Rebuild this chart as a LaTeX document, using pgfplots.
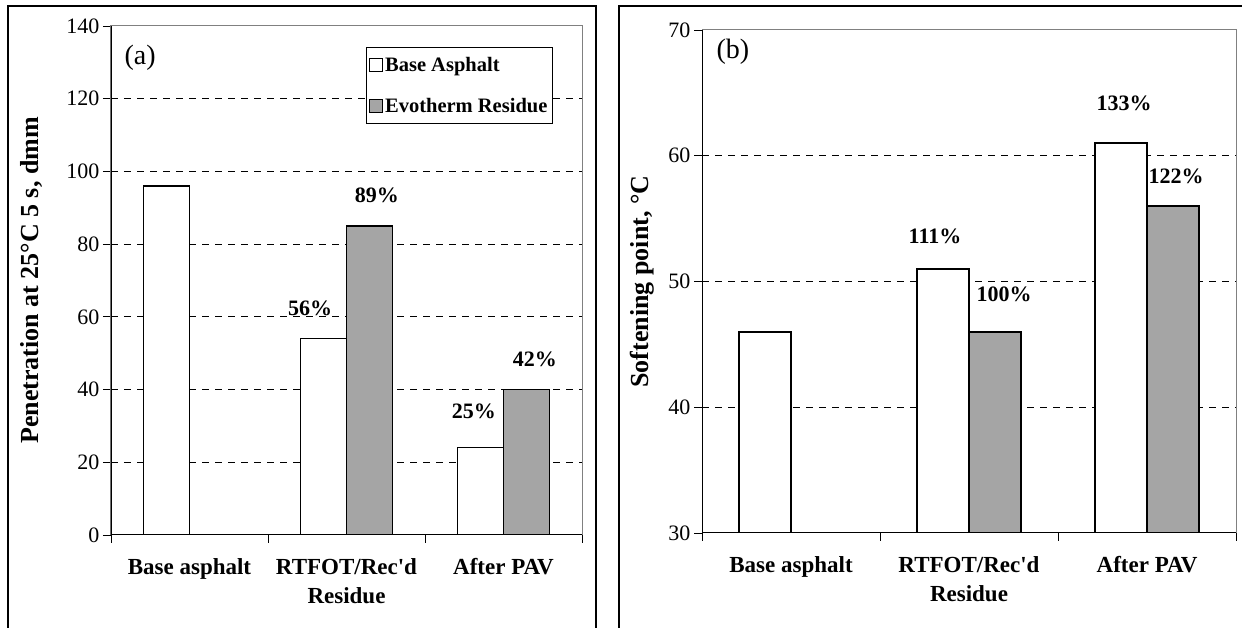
\documentclass[border=0pt]{standalone}
\usepackage{fontspec}
\setmainfont{Liberation Serif}
\usepackage{pgfplots}
\pgfplotsset{compat=1.18}

\definecolor{evo}{RGB}{165,165,165}
\definecolor{boxgray}{RGB}{128,128,128}

\tikzset{
  pct/.style={font=\fontsize{22}{26}\selectfont\bfseries},
  tag/.style={font=\fontsize{28}{32}\selectfont},
}

\pgfplotsset{
  panel/.style={
    scale only axis,
    anchor=south west,
    ybar=0pt,
    bar width=0.293,
    xmin=-0.5, xmax=2.5,
    xtick={0,1,2},
    xticklabels={Base asphalt, {RTFOT/Rec\textquotesingle d\\Residue}, After PAV},
    minor xtick={-0.5,0.5,1.5,2.5},
    major x tick style={draw=none},
    minor x tick style={black, line width=0.8pt},
    y tick style={black, line width=0.8pt},
    tick align=outside,
    major tick length=8pt,
    minor tick length=8pt,
    xtick pos=bottom, ytick pos=left,
    axis line style={boxgray, line width=1pt},
    yticklabel={\fontsize{22}{26}\selectfont\pgfmathprintnumber[assume math mode=true]{\tick}},
    xticklabel style={font=\fontsize{23}{29}\selectfont\bfseries, align=center, yshift=-12pt},
    ylabel style={font=\fontsize{26}{30}\selectfont\bfseries, anchor=center},
    extra y tick style={grid=major, major tick length=0pt},
    extra y tick labels={},
    grid style={black, line width=0.8pt, dash pattern=on 7pt off 6pt},
    legend image code/.code={\draw[#1, line width=1pt] (0pt,-6.5pt) rectangle (13pt,6.5pt);},
  },
  wbar/.style={fill=white, draw=black, line width=1.5pt},
  gbar/.style={fill=evo, draw=black, line width=1.5pt},
}

\begin{document}
\begin{tikzpicture}
\useasboundingbox (0pt,0pt) rectangle (1242pt,628pt);

% panel frames
\draw[line width=2.5pt] (8pt,-20pt) -- (8pt,622pt) -- (596pt,622pt) -- (596pt,-20pt);
\draw[line width=2.5pt] (619pt,-20pt) -- (619pt,622pt) -- (1270pt,622pt);

% (a) penetration
\begin{axis}[panel,
  at={(111pt,93pt)}, width=471pt, height=509pt,
  ymin=0, ymax=140, ytick={0,20,...,140},
  extra y ticks={20,40,...,120},
  ylabel={Penetration at 25°C 5 s, dmm},
  ylabel style={at={(axis description cs:-0.168,0.5)}},
  legend style={at={(0.938,0.959)}, anchor=north east, draw=black, line width=0.8pt,
    font=\fontsize{20.5}{24}\selectfont\bfseries, inner xsep=3pt, inner ysep=8pt,
    row sep=21pt, cells={anchor=west}},
]
\addplot[wbar] coordinates {(0,96) (1,54) (2,24)};
\addlegendentry{Base Asphalt}
\addplot[gbar] coordinates {(1,85) (2,40)};
\addlegendentry{Evotherm Residue}
\draw[black, line width=1.2pt] (rel axis cs:0,1) -- (rel axis cs:0,0) -- (rel axis cs:1,0);
\node[tag] at (axis cs:-0.315,131.2) {(a)};
\node[pct] at (axis cs:0.768,62.4) {56\%};
\node[pct] at (axis cs:1.194,93.5) {89\%};
\node[pct] at (axis cs:1.812,34.1) {25\%};
\node[pct] at (axis cs:2.2,48.4) {42\%};
\end{axis}

% (b) softening point
\begin{axis}[panel,
  at={(702pt,95pt)}, width=534pt, height=503pt,
  ymin=30, ymax=70, ytick={30,40,...,70},
  extra y ticks={40,50,60},
  ylabel={Softening point, °C},
  ylabel style={at={(axis description cs:-0.112,0.5)}},
]
\addplot[wbar] coordinates {(0,46) (1,51) (2,61)};
\addplot[gbar] coordinates {(1,46) (2,56)};
\draw[black, line width=1.2pt] (rel axis cs:0,1) -- (rel axis cs:0,0) -- (rel axis cs:1,0);
\node[tag] at (axis cs:-0.326,68.25) {(b)};
\node[pct] at (axis cs:0.809,53.6) {111\%};
\node[pct] at (axis cs:1.197,49.0) {100\%};
\node[pct] at (axis cs:1.871,64.2) {133\%};
\node[pct] at (axis cs:2.163,58.4) {122\%};
\end{axis}
\end{tikzpicture}
\end{document}
